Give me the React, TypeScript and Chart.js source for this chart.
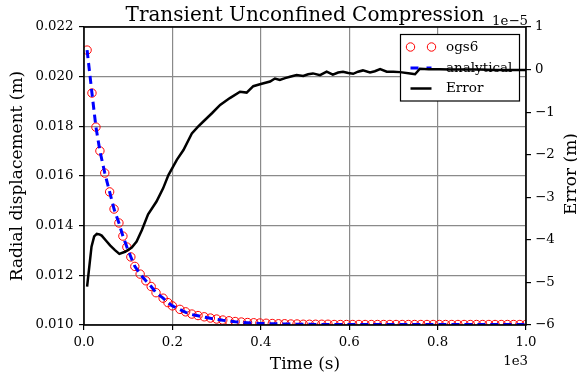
import React, { useEffect, useRef } from 'react';
import { Chart, registerables } from 'chart.js';

Chart.register(...registerables);

// ---------- data (time in s, displacement in m, error in m) ----------
const timeS = [
  7, 18, 27, 36, 47, 58, 68, 79, 88, 97, 106, 115, 127, 140, 152, 163, 179, 190, 200, 217, 230,
  244, 258, 272, 286, 300, 314, 328, 342, 356, 370, 384, 398, 412, 426, 440, 454, 468, 482, 496,
  510, 524, 538, 552, 566, 580, 594, 608, 622, 636, 650, 664, 678, 692, 706, 720, 734, 748, 762,
  776, 790, 804, 818, 832, 846, 860, 874, 888, 902, 916, 930, 944, 958, 972, 986, 1000,
];
const ogs6 = [
  0.02107, 0.01934, 0.01797, 0.01701, 0.01612, 0.01536, 0.01467, 0.01411, 0.01358, 0.01314,
  0.01274, 0.01236, 0.01205, 0.01178, 0.01155, 0.0113, 0.01108, 0.0109, 0.01077, 0.01063, 0.01053,
  0.01044, 0.01038, 0.01033, 0.01028, 0.01024, 0.0102, 0.01017, 0.01014, 0.01012, 0.0101,
  0.01009, 0.01008, 0.01007, 0.01006, 0.01005, 0.01005, 0.01004, 0.01004, 0.01003,
  0.01003, 0.01003, 0.01003, 0.01003, 0.01002, 0.01002, 0.01002, 0.01002, 0.01002, 0.01002,
  0.01002, 0.01002, 0.01002, 0.01002, 0.01002, 0.01002, 0.01002, 0.01002, 0.01002,
  0.01002, 0.01002, 0.01002, 0.01002, 0.01002, 0.01002, 0.01002, 0.01002, 0.01002, 0.01002,
  0.01002, 0.01002, 0.01002, 0.01002, 0.01002, 0.01002, 0.01002,
];
const analytical = [
  0.02107, 0.01934, 0.01797, 0.01701, 0.01612, 0.01536, 0.01467, 0.01411, 0.01358, 0.01314,
  0.01274, 0.01236, 0.01205, 0.01178, 0.01155, 0.0113, 0.01108, 0.0109, 0.01077, 0.01062, 0.01051,
  0.01042, 0.01037, 0.01032, 0.01027, 0.01023, 0.01019, 0.01016, 0.01013, 0.01011, 0.01009,
  0.01007, 0.01006, 0.01006, 0.01005, 0.01005, 0.01004, 0.01004, 0.01003, 0.01003,
  0.01003, 0.01002, 0.01002, 0.01002, 0.01002, 0.01002, 0.01002, 0.01002, 0.01002, 0.01002,
  0.01002, 0.01002, 0.01002, 0.01002, 0.01002, 0.01002, 0.01002, 0.01002, 0.01002,
  0.01002, 0.01002, 0.01002, 0.01002, 0.01002, 0.01002, 0.01002, 0.01002, 0.01002, 0.01002,
  0.01002, 0.01002, 0.01002, 0.01002, 0.01002, 0.01002, 0.01002,
];
const errTime = [
  7, 17, 23, 29, 35, 40, 50, 59, 70, 80, 93, 108, 119, 131, 145, 164, 179, 191, 210, 225, 244,
  257, 270, 290, 308, 330, 353, 368, 383, 400, 421, 432, 443, 455, 466, 481, 496, 507, 518, 534,
  549, 563, 575, 586, 598, 609, 620, 631, 647, 658, 670, 685, 700, 715, 738, 749, 760, 780, 805,
  830, 860, 896, 930, 960, 1000,
];
const errVal = [
  -5.1e-5, -4.16e-5, -3.92e-5, -3.86e-5, -3.87e-5, -3.9e-5, -4.02e-5, -4.13e-5, -4.24e-5, -4.33e-5,
  -4.28e-5, -4.18e-5, -4.04e-5, -3.77e-5, -3.4e-5, -3.1e-5, -2.79e-5, -2.48e-5, -2.12e-5, -1.89e-5,
  -1.5e-5, -1.35e-5, -1.22e-5, -1.02e-5, -0.83e-5, -0.67e-5, -0.52e-5, -0.54e-5, -0.39e-5, -0.34e-5,
  -0.28e-5, -0.21e-5, -0.245e-5, -0.2e-5, -0.17e-5, -0.13e-5, -0.15e-5, -0.11e-5, -0.09e-5, -0.13e-5,
  -0.05e-5, -0.12e-5, -0.07e-5, -0.05e-5, -0.08e-5, -0.1e-5, -0.05e-5, -0.02e-5, -0.07e-5, -0.04e-5,
  0.01e-5, -0.05e-5, -0.05e-5, -0.06e-5, -0.09e-5, -0.11e-5, 0.02e-5, 0.01e-5, 0.01e-5,
  0.0, 0.0, 0.0, -0.01e-5, -0.01e-5, -0.01e-5,
];

const xTicks = [0, 200, 400, 600, 800, 1000];
const xTickLabels = ['0.0', '0.2', '0.4', '0.6', '0.8', '1.0'];
const yTicks = [0.01, 0.012, 0.014, 0.016, 0.018, 0.02, 0.022];
const yTickLabels = ['0.010', '0.012', '0.014', '0.016', '0.018', '0.020', '0.022'];
const errTicks = [-6e-5, -5e-5, -4e-5, -3e-5, -2e-5, -1e-5, 0, 1e-5];
const errTickLabels = ['\u22126', '\u22125', '\u22124', '\u22123', '\u22122', '\u22121', '0', '1'];

const titleText = 'Transient Unconfined Compression';
const xTitle = 'Time (s)';
const yTitle = 'Radial displacement (m)';
const errTitle = 'Error (m)';
const xOffsetText = '1e3';
const errOffsetText = '1e\u22125';
const legendLabels = ['ogs6', 'analytical', 'Error'];

const SERIF = "'DejaVu Serif', serif";
const GRID = '#8a8a8a';

const decorPlugin = {
  id: 'decor',
  beforeDatasetDraw(chart: any, args: any) {
    if (args.index !== 2) return;
    const { ctx, chartArea: ca } = chart;
    const bx = ca.right - 125.5;
    const by = ca.top + 7.5;
    const bw = 119;
    const bh = 66.5;
    ctx.save();
    ctx.fillStyle = '#ffffff';
    ctx.fillRect(bx, by, bw, bh);
    ctx.strokeStyle = '#000';
    ctx.lineWidth = 1.2;
    ctx.strokeRect(bx, by, bw, bh);
    const rows = [by + 12.5, by + 33.5, by + 54];
    const hx0 = bx + 10;
    const hx1 = bx + 31;
    // ogs6 handle
    ctx.strokeStyle = '#ff0000';
    ctx.lineWidth = 1;
    [hx0, hx1].forEach((cx) => {
      ctx.beginPath();
      ctx.arc(cx, rows[0], 4.2, 0, Math.PI * 2);
      ctx.stroke();
    });
    // analytical handle
    ctx.strokeStyle = '#0000ff';
    ctx.lineWidth = 3;
    ctx.setLineDash([8, 8]);
    ctx.beginPath();
    ctx.moveTo(hx0, rows[1]);
    ctx.lineTo(hx1, rows[1]);
    ctx.stroke();
    ctx.setLineDash([]);
    // error handle
    ctx.strokeStyle = '#000';
    ctx.lineWidth = 2.5;
    ctx.beginPath();
    ctx.moveTo(hx0, rows[2]);
    ctx.lineTo(hx1, rows[2]);
    ctx.stroke();
    ctx.fillStyle = '#000';
    ctx.font = `13.5px ${SERIF}`;
    ctx.textAlign = 'left';
    ctx.textBaseline = 'middle';
    legendLabels.forEach((t, i) => ctx.fillText(t, bx + 45.5, rows[i]));
    ctx.restore();
  },
  afterDraw(chart: any) {
    const { ctx, chartArea: ca } = chart;
    ctx.save();
    ctx.strokeStyle = '#000';
    ctx.lineWidth = 1.6;
    ctx.strokeRect(ca.left, ca.top, ca.right - ca.left, ca.bottom - ca.top);
    ctx.fillStyle = '#000';
    ctx.font = `20px ${SERIF}`;
    ctx.textAlign = 'center';
    ctx.textBaseline = 'alphabetic';
    ctx.fillText(titleText, (ca.left + ca.right) / 2, 21);
    ctx.font = `13.3px ${SERIF}`;
    ctx.textAlign = 'right';
    ctx.fillText(xOffsetText, ca.right + 2, 365);
    ctx.fillText(errOffsetText, ca.right + 2, 25);
    ctx.font = `17px ${SERIF}`;
    ctx.textAlign = 'center';
    ctx.translate(575.5, (ca.top + ca.bottom) / 2 - 2);
    ctx.rotate(-Math.PI / 2);
    ctx.fillText(errTitle, 0, 0);
    ctx.restore();
  },
};

export default function App() {
  const ref = useRef<HTMLCanvasElement | null>(null);
  useEffect(() => {
    if (!ref.current) return;
    Chart.defaults.font.family = SERIF;
    const chart = new Chart(ref.current, {
      type: 'line',
      data: {
        datasets: [
          {
            label: 'ogs6',
            data: timeS.map((t, i) => ({ x: t, y: ogs6[i] })),
            yAxisID: 'y',
            showLine: false,
            pointStyle: 'circle',
            pointRadius: 4.2,
            pointBorderWidth: 1,
            pointBorderColor: '#ff0000',
            pointBackgroundColor: 'rgba(0,0,0,0)',
            borderColor: '#ff0000',
            order: 3,
            clip: 0,
          } as any,
          {
            label: 'analytical',
            data: timeS.map((t, i) => ({ x: t, y: analytical[i] })),
            yAxisID: 'y',
            borderColor: '#0000ff',
            borderWidth: 3,
            borderDash: [8, 5],
            pointRadius: 0,
            tension: 0,
            fill: false,
            order: 2,
            clip: 0,
          } as any,
          {
            label: 'Error',
            data: errTime.map((t, i) => ({ x: t, y: errVal[i] })),
            yAxisID: 'yErr',
            borderColor: '#000000',
            borderWidth: 2.5,
            pointRadius: 0,
            tension: 0,
            fill: false,
            order: 1,
            clip: 0,
          } as any,
        ],
      },
      options: {
        animation: false,
        responsive: false,
        maintainAspectRatio: false,
        layout: { padding: { top: 27, left: 0, right: 0, bottom: 0 } },
        plugins: {
          legend: { display: false },
          title: { display: false },
          tooltip: { enabled: false },
        },
        scales: {
          x: {
            type: 'linear',
            min: 0,
            max: 1000,
            afterBuildTicks: (s: any) => {
              s.ticks = xTicks.map((v) => ({ value: v }));
            },
            afterFit: (s: any) => {
              s.height = 53;
            },
            ticks: {
              callback: (_v: any, i: number) => xTickLabels[i],
              font: { family: SERIF, size: 13.3 },
              color: '#000',
              padding: 4.5,
              maxRotation: 0,
              autoSkip: false,
            },
            grid: { color: GRID, lineWidth: 1.2, tickColor: '#000', tickWidth: 1.2, tickLength: 5 },
            border: { display: false },
            title: {
              display: true,
              text: xTitle,
              color: '#000',
              font: { family: SERIF, size: 17 },
              padding: { top: 0, bottom: 3 },
            },
          },
          y: {
            type: 'linear',
            position: 'left',
            min: 0.01,
            max: 0.022,
            afterBuildTicks: (s: any) => {
              s.ticks = yTicks.map((v) => ({ value: v }));
            },
            afterFit: (s: any) => {
              s.width = 84;
            },
            ticks: {
              callback: (_v: any, i: number) => yTickLabels[i],
              font: { family: SERIF, size: 13.3 },
              color: '#000',
              padding: 5.5,
              autoSkip: false,
            },
            grid: { color: GRID, lineWidth: 1.2, tickColor: '#000', tickWidth: 1.2, tickLength: 5 },
            border: { display: false },
            title: {
              display: true,
              text: yTitle,
              color: '#000',
              font: { family: SERIF, size: 17 },
              padding: { top: 7.5, bottom: 0 },
            },
          },
          yErr: {
            type: 'linear',
            position: 'right',
            min: -6e-5,
            max: 1e-5,
            afterBuildTicks: (s: any) => {
              s.ticks = errTicks.map((v) => ({ value: v }));
            },
            afterFit: (s: any) => {
              s.width = 51;
            },
            ticks: {
              callback: (_v: any, i: number) => errTickLabels[i],
              font: { family: SERIF, size: 13.3 },
              color: '#000',
              padding: 4,
              autoSkip: false,
            },
            grid: {
              drawOnChartArea: false,
              color: '#000',
              lineWidth: 1.2,
              tickColor: '#000',
              tickWidth: 1.2,
              tickLength: 5,
            },
            border: { display: false },
          },
        },
      } as any,
      plugins: [decorPlugin],
    });
    return () => chart.destroy();
  }, []);
  return (
    <div style={{ position: 'absolute', left: 0, top: 0, width: 577, height: 378, background: '#fff' }}>
      <canvas ref={ref} width={577} height={378} style={{ width: 577, height: 378, display: 'block' }} />
    </div>
  );
}
